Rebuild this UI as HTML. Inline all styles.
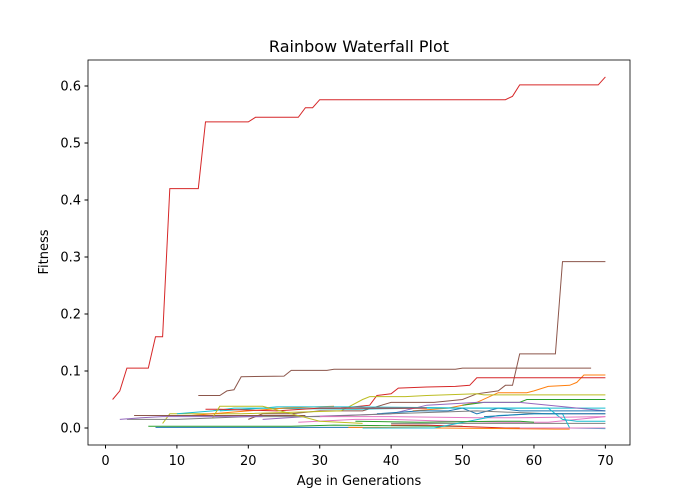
<!DOCTYPE html>
<html><head><meta charset="utf-8"><style>
body{margin:0;background:#fff;font-family:"DejaVu Sans",sans-serif;}
</style></head><body>
<svg id="chart" width="700" height="500" xmlns="http://www.w3.org/2000/svg" font-family="DejaVu Sans, sans-serif">
<rect width="700" height="500" fill="#fff"/>
<g id="plot"></g>
<rect x="88" y="60" width="542" height="385" fill="none" stroke="#000" stroke-width="0.8"/>
<g id="axes"></g>
<text x="359" y="52" text-anchor="middle" font-size="16">Rainbow Waterfall Plot</text>
<text x="359" y="485" text-anchor="middle" font-size="13">Age in Generations</text>
<text transform="translate(48,252) rotate(-90)" text-anchor="middle" font-size="13">Fitness</text>
</svg>
<script>
const xTicks=[0,10,20,30,40,50,60,70];
const yTicks=[0.0,0.1,0.2,0.3,0.4,0.5,0.6];
const yTickLabels=["0.0","0.1","0.2","0.3","0.4","0.5","0.6"];
const seriesColors=["#d62728","#8c564b","#8c564b","#ff7f0e","#d62728","#bcbd22","#2ca02c","#17becf","#9467bd","#1f77b4","#e377c2","#7f7f7f","#ff7f0e","#17becf","#8c564b","#d62728","#2ca02c","#1f77b4","#e377c2","#bcbd22","#9467bd","#7f7f7f","#d62728","#ff7f0e","#17becf","#2ca02c","#1f77b4","#e377c2"];
const seriesAges=[
[1,2,3,6,7,8,9,13,14,20,21,27,28,29,30,56,57,58,69,70],
[13,16,17,18,19,25,26,31,32,49,50,68],
[20,22,26,30,36,40,46,50,52,55,56,57,58,63,64,70],
[43,48,52,55,59,60,62,65,66,67,70],
[33,37,38,40,41,45,49,51,52,70],
[8,9,19,33,36,37,38,42,45,52,53,70],
[50,53,58,59,70],
[10,15,18,20,35,45,55,70],
[22,28,40,45,52,58,70],
[38,44,48,50,52,55,58,70],
[27,35,40,48,56,62,70],
[3,10,20,30,40,52,62,66,70],
[12,18,25,32],
[16,22,24,34,44,52,62,64,66,70],
[4,10,15,20,28],
[14,16,24,30,40,45],
[6,12,26,32,47,50],
[7,12,26,32,36],
[30,40,52,58,70],
[15,16,17,22,30,36],
[2,5,8,12,18,22],
[40,50,60,70],
[40,45,56,62],
[34,38,63,65],
[36,42,46,55,60,64,65,70],
[35,44,55,58,60],
[53,60,70],
[58,62,68,70]];
const seriesValues=[
[0.05,0.065,0.105,0.105,0.16,0.16,0.42,0.42,0.537,0.537,0.545,0.545,0.562,0.562,0.576,0.576,0.582,0.602,0.602,0.616],
[0.057,0.057,0.065,0.067,0.09,0.091,0.101,0.101,0.103,0.103,0.105,0.105],
[0.015,0.025,0.025,0.03,0.03,0.045,0.045,0.05,0.06,0.065,0.075,0.075,0.13,0.13,0.292,0.292],
[0.03,0.035,0.045,0.062,0.062,0.065,0.073,0.075,0.08,0.093,0.093],
[0.035,0.04,0.057,0.06,0.07,0.072,0.073,0.075,0.088,0.088],
[0.008,0.025,0.025,0.03,0.05,0.055,0.055,0.055,0.057,0.06,0.058,0.058],
[0.04,0.045,0.045,0.05,0.05],
[0.025,0.03,0.035,0.035,0.033,0.035,0.035,0.035],
[0.015,0.02,0.025,0.04,0.045,0.045,0.03],
[0.025,0.03,0.03,0.035,0.025,0.035,0.03,0.03],
[0.01,0.015,0.015,0.012,0.01,0.01,0.02],
[0.015,0.015,0.02,0.02,0.025,0.03,0.025,0.025,0.025],
[0.022,0.028,0.035,0.038],
[0.03,0.035,0.037,0.037,0.036,0.035,0.035,0.015,0.012,0.012],
[0.022,0.022,0.022,0.022,0.022],
[0.033,0.033,0.03,0.035,0.035,0.035],
[0.003,0.003,0.003,0.005,0.003,0.003],
[0.001,0.001,0.001,0.001,0.001],
[0.02,0.02,0.018,0.018,0.02],
[0.018,0.038,0.038,0.038,0.012,0.008],
[0.015,0.018,0.02,0.02,0.02,0.02],
[0.008,0.008,0.008,0.008],
[0.005,0.005,0.0,0.0],
[0.001,0.001,-0.002,-0.002],
[0.0,0.0,0.0,0.022,0.025,0.025,0.0,-0.001],
[0.012,0.01,0.012,0.012,0.01],
[0.02,0.025,0.025],
[0.0,0.0,0.0,0.0]];
const NS='http://www.w3.org/2000/svg';
const xS=v=>88+(v+2.45)*542/75.9;
const yS=v=>428-v*570;
const plot=document.getElementById('plot'),axes=document.getElementById('axes');
seriesAges.forEach((ages,i)=>{
  const p=document.createElementNS(NS,'polyline');
  
  
  p.setAttribute('points',ages.map((a,j)=>xS(a).toFixed(1)+','+yS(seriesValues[i][j]).toFixed(1)).join(' '));
  p.setAttribute('fill','none');p.setAttribute('stroke',seriesColors[i%seriesColors.length]);p.setAttribute('stroke-width','1');
  plot.appendChild(p);
});
xTicks.forEach(t=>{
  const x=xS(t);
  const l=document.createElementNS(NS,'line');
  
  
  l.setAttribute('x1',x);l.setAttribute('x2',x);l.setAttribute('y1',445);l.setAttribute('y2',448.5);l.setAttribute('stroke','#000');
  axes.appendChild(l);
  const tx=document.createElementNS(NS,'text');
  
  
  tx.setAttribute('x',x);tx.setAttribute('y',465);tx.setAttribute('text-anchor','middle');tx.setAttribute('font-size','13');
  tx.textContent=t;axes.appendChild(tx);
});
yTicks.forEach((t,i)=>{
  const y=yS(t);
  const l=document.createElementNS(NS,'line');
  
  
  l.setAttribute('x1',84.5);l.setAttribute('x2',88);l.setAttribute('y1',y);l.setAttribute('y2',y);l.setAttribute('stroke','#000');
  axes.appendChild(l);
  const tx=document.createElementNS(NS,'text');
  
  
  tx.setAttribute('x',81);tx.setAttribute('y',y+4.5);tx.setAttribute('text-anchor','end');tx.setAttribute('font-size','13');
  tx.textContent=yTickLabels[i];axes.appendChild(tx);
});
</script>
</body></html>
